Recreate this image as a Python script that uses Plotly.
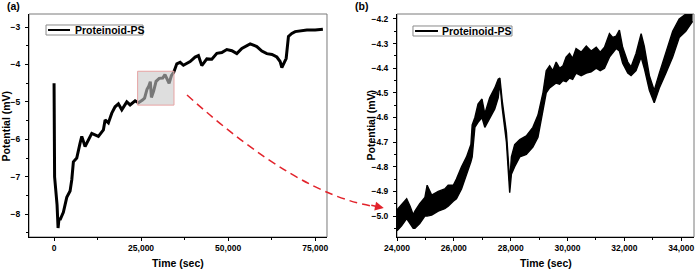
import plotly.graph_objects as go

# ---------------- data ----------------
series_name = "Proteinoid-PS"

# panel (a): full record
time_a = [0, 150, 860, 1150, 1450, 1720, 2670, 3650, 4600, 5090, 5550, 6520, 7470,
          7960, 8910, 10350, 10830, 12730, 14170, 14660, 15600, 16580, 17530, 18480,
          19460, 20890, 21840, 23280, 24220, 25400, 26000, 26700, 27200, 27650, 27970,
          28600, 29300, 30200, 31200, 31850, 32400, 33050, 33700, 34400, 35260, 36210,
          37160, 38130, 39080, 40520, 41470, 42440, 43880, 45320, 46760, 48190, 49630,
          51070, 52500, 53940, 55380, 56330, 58250, 59690, 61120, 62600, 63990, 64940,
          65430, 65900, 66670, 67330, 68300, 69260, 71180, 72620, 75000, 77220]
potential_a = [-4.50, -7.00, -7.75, -8.37, -8.10, -8.15, -7.95, -7.55, -7.38, -7.08, -6.60,
               -6.50, -6.10, -5.92, -6.19, -5.94, -5.84, -5.92, -5.75, -5.48, -5.56, -5.30,
               -5.13, -5.05, -5.21, -5.00, -5.08, -4.97, -5.02, -4.95, -4.90, -4.66, -4.58,
               -4.46, -4.88, -4.71, -4.45, -4.37, -4.36, -4.27, -4.38, -4.50, -4.30, -4.20,
               -3.98, -3.94, -4.02, -3.98, -3.92, -3.80, -3.76, -4.03, -3.85, -3.86, -3.70,
               -3.68, -3.60, -3.63, -3.71, -3.57, -3.50, -3.45, -3.52, -3.64, -3.71, -3.73,
               -3.80, -3.92, -4.08, -4.00, -3.84, -3.25, -3.17, -3.12, -3.10, -3.08, -3.08,
               -3.06]

# panel (b): zoomed window, upper / lower envelope of the oscillating trace
time_b = [24000, 24160, 24340, 24460, 24570, 24630, 24800, 24980, 25060, 25220, 25450,
          25680, 25800, 25980, 26090, 26270, 26445, 26600, 26645, 26740, 26850, 26990,
          27090, 27260, 27440, 27560, 27620, 27700, 27850, 27965, 28025, 28140, 28320,
          28550, 28780, 28960, 29135, 29250, 29370, 29480, 29600, 29720, 29840, 29950,
          30070, 30180, 30300, 30480, 30660, 30830, 31010, 31150, 31300, 31475, 31590,
          31710, 31825, 31940, 32120, 32235, 32410, 32590, 32700, 32880, 33050, 33230,
          33460, 33700, 33930, 34160, 34400]
upper_b = [-4.975, -4.955, -4.930, -4.960, -4.995, -4.980, -4.950, -4.925, -4.875, -4.915,
           -4.900, -4.890, -4.875, -4.875, -4.850, -4.800, -4.760, -4.710, -4.630, -4.600,
           -4.545, -4.525, -4.585, -4.520, -4.480, -4.445, -4.440, -4.530, -4.660, -4.860,
           -4.760, -4.710, -4.690, -4.675, -4.640, -4.590, -4.500, -4.410, -4.390, -4.410,
           -4.375, -4.400, -4.390, -4.355, -4.340, -4.360, -4.320, -4.335, -4.310, -4.330,
           -4.315, -4.335, -4.315, -4.260, -4.275, -4.270, -4.245, -4.315, -4.375, -4.395,
           -4.340, -4.260, -4.310, -4.430, -4.490, -4.420, -4.340, -4.250, -4.200, -4.180,
           -4.160]
lower_b = [-5.060, -5.040, -5.010, -5.030, -5.050, -5.050, -5.030, -5.000, -5.000, -4.996,
           -4.980, -4.970, -4.960, -4.940, -4.930, -4.890, -4.835, -4.780, -4.760, -4.640,
           -4.620, -4.600, -4.640, -4.605, -4.565, -4.520, -4.460, -4.560, -4.700, -4.905,
           -4.830, -4.800, -4.760, -4.750, -4.720, -4.680, -4.570, -4.500, -4.480, -4.470,
           -4.460, -4.465, -4.450, -4.455, -4.440, -4.445, -4.420, -4.430, -4.420, -4.415,
           -4.400, -4.410, -4.400, -4.355, -4.340, -4.320, -4.330, -4.380, -4.420, -4.430,
           -4.410, -4.355, -4.400, -4.490, -4.540, -4.480, -4.420, -4.355, -4.275, -4.250,
           -4.210]

# axis ranges / ticks
range_xa = [-7200, 78400]
range_ya = [-8.61, -2.65]
ticks_xa = [0, 25000, 50000, 75000]
ticks_ya = [-8, -7, -6, -5, -4, -3]
range_xb = [24000, 34450]
range_yb = [-5.085, -4.18]
ticks_xb = [24000, 26000, 28000, 30000, 32000, 34000]
ticks_yb = [-5.0, -4.9, -4.8, -4.7, -4.6, -4.5, -4.4, -4.3, -4.2]

FONT = "Liberation Sans, Arial, sans-serif"
RED = "#e2232b"

fig = go.Figure()

fig.add_trace(go.Scatter(x=time_a, y=potential_a, mode="lines", name=series_name,
                         line=dict(color="black", width=3), xaxis="x", yaxis="y",
                         showlegend=False))
fig.add_trace(go.Scatter(x=time_b, y=lower_b, mode="lines", name=series_name,
                         line=dict(color="black", width=1.4), xaxis="x2", yaxis="y2",
                         showlegend=False))
fig.add_trace(go.Scatter(x=time_b, y=upper_b, mode="lines", name=series_name,
                         line=dict(color="black", width=1.4), fill="tonexty",
                         fillcolor="black", xaxis="x2", yaxis="y2", showlegend=False))

tickfont = dict(family=FONT, size=8.5, color="black", weight="bold")
common = dict(showgrid=False, zeroline=False, showline=True, linecolor="black",
              linewidth=1, ticks="outside", ticklen=3, tickcolor="black",
              tickfont=tickfont)

fig.update_layout(
    width=696, height=270,
    margin=dict(l=29, r=2, t=14, b=33),
    paper_bgcolor="white", plot_bgcolor="white",
    showlegend=False,
    xaxis=dict(domain=[0, 0.4481], range=range_xa, tickvals=ticks_xa,
               tickformat=",d", minor=dict(dtick=12500, tick0=0, ticklen=2,
                                           tickcolor="black", ticks="outside"),
               anchor="y", ticklabelstandoff=0, **common),
    yaxis=dict(domain=[0, 1], range=range_ya, tickvals=ticks_ya,
               minor=dict(dtick=0.5, tick0=0, ticklen=2, tickcolor="black",
                          ticks="outside"),
               anchor="x", ticklabelstandoff=3, **common),
    xaxis2=dict(domain=[0.5534, 1], range=range_xb, tickvals=ticks_xb,
                tickformat=",d", minor=dict(dtick=1000, tick0=0, ticklen=2,
                                            tickcolor="black", ticks="outside"),
                anchor="y2", ticklabelstandoff=0, **common),
    yaxis2=dict(domain=[0, 1], range=range_yb, tickvals=ticks_yb, tickformat=".1f",
                minor=dict(dtick=0.05, tick0=0, ticklen=2, tickcolor="black",
                           ticks="outside"),
                anchor="x2", ticklabelstandoff=3, **common),
)

# frames (gray top/right borders)
for xr, yr in (("x domain", "y domain"), ("x2 domain", "y2 domain")):
    fig.add_shape(type="rect", xref=xr, yref=yr, x0=0, x1=1, y0=0, y1=1,
                  line=dict(color="#7a7a7a", width=1), layer="below")

# highlighted window in panel (a)
fig.add_shape(type="rect", xref="x", yref="y", x0=range_xb[0], x1=range_xb[1],
              y0=range_yb[0], y1=range_yb[1], fillcolor="rgba(200,200,200,0.6)",
              line=dict(color="#e6a3a3", width=1), layer="above")

# curved dashed arrow from (a) to (b)
fig.add_shape(type="path", xref="paper", yref="paper",
              path="M 0.2376,0.6368 Q 0.4053,0.187 0.5203,0.1368",
              line=dict(color=RED, width=1.5, dash="8px,5px"))
fig.add_annotation(xref="paper", yref="paper", x=0.5335, y=0.130, ax=-14, ay=-3,
                   axref="pixel", ayref="pixel", text="", showarrow=True,
                   arrowhead=2, arrowsize=1.1, arrowwidth=1.6, arrowcolor=RED)

# compact legend boxes (box, sample line, label) for each panel
legend_boxes = [
    dict(box=(0.0256, 0.1714, 0.9058, 0.9507), line=(0.0286, 0.0617, 0.9283), tx=0.0662),
    dict(box=(0.5774, 0.7263, 0.9013, 0.9462), line=(0.5805, 0.6150, 0.9238), tx=0.6180),
]
for lb in legend_boxes:
    x0, x1, y0, y1 = lb["box"]
    fig.add_shape(type="rect", xref="paper", yref="paper", x0=x0, x1=x1, y0=y0, y1=y1,
                  line=dict(color="#8a8a8a", width=1), fillcolor="white")
    lx0, lx1, ly = lb["line"]
    fig.add_shape(type="line", xref="paper", yref="paper", x0=lx0, x1=lx1, y0=ly, y1=ly,
                  line=dict(color="black", width=2))
    fig.add_annotation(xref="paper", yref="paper", x=lb["tx"], y=ly, text=series_name,
                       showarrow=False, xanchor="left", yanchor="middle",
                       font=dict(family=FONT, size=10.5, color="black", weight="bold"))

lab = dict(family=FONT, size=10.5, color="black", weight="bold")
annos = [
    dict(text="(a)", x=-0.036, y=1.036, xanchor="left", yanchor="middle"),
    dict(text="(b)", x=0.487, y=1.036, xanchor="left", yanchor="middle"),
    dict(text="Time (sec)", x=0.2241, y=-0.1166, xanchor="center", yanchor="middle"),
    dict(text="Time (sec)", x=0.7767, y=-0.1166, xanchor="center", yanchor="middle"),
    dict(text="Potential (mV)", x=-0.0346, y=0.5, xanchor="center", yanchor="middle",
         textangle=-90),
    dict(text="Potential (mV)", x=0.5128, y=0.5, xanchor="center", yanchor="middle",
         textangle=-90),
]
for a in annos:
    fig.add_annotation(xref="paper", yref="paper", showarrow=False, font=lab, **a)

fig.write_html("out.html", config={"displayModeBar": False},
               post_script="document.body.style.margin='0';document.body.style.overflow='hidden';")
